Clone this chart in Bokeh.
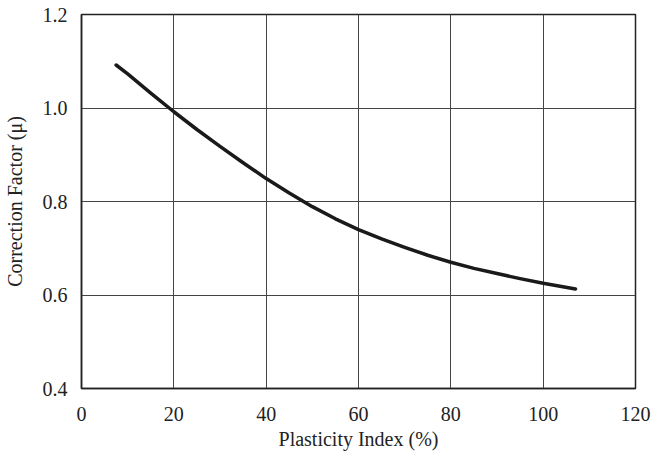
from bokeh.plotting import figure
from bokeh.models import Range1d, FixedTicker, NumeralTickFormatter
from bokeh.embed import file_html
from bokeh.resources import INLINE

# Data
plasticity_index = [7.5, 10, 15, 20, 25, 30, 35, 40, 45, 50, 55, 60, 65, 70, 75, 80, 85, 90, 95, 100, 107]
correction_factor = [1.092, 1.073, 1.032, 0.992, 0.954, 0.918, 0.883, 0.849, 0.818, 0.789, 0.763,
                     0.740, 0.720, 0.702, 0.685, 0.670, 0.657, 0.646, 0.635, 0.625, 0.613]

x_ticks = [0, 20, 40, 60, 80, 100, 120]
y_ticks = [0.4, 0.6, 0.8, 1.0, 1.2]

FONT = "Liberation Serif"

p = figure(
    output_backend="svg", toolbar_location=None,
    frame_width=554, frame_height=374,
    x_range=Range1d(0, 120), y_range=Range1d(0.4, 1.2),
    min_border_left=73, min_border_top=14, min_border_right=20, min_border_bottom=50,
    background_fill_color="white", border_fill_color="white",
)

p.line(plasticity_index, correction_factor, line_color="#1a1a1a", line_width=3.5,
       line_cap="round", line_join="round")

p.xaxis.ticker = FixedTicker(ticks=x_ticks)
p.yaxis.ticker = FixedTicker(ticks=y_ticks)
p.yaxis.formatter = NumeralTickFormatter(format="0.0")

for ax in (p.xaxis[0], p.yaxis[0]):
    ax.major_tick_line_color = None
    ax.minor_tick_line_color = None
    ax.axis_line_color = "#222222"
    ax.axis_line_width = 1.5
    ax.major_label_text_font = FONT
    ax.major_label_text_font_size = "20px"
    ax.major_label_text_color = "#222222"
    ax.axis_label_text_font = FONT
    ax.axis_label_text_font_size = "20px"
    ax.axis_label_text_font_style = "normal"
    ax.axis_label_text_color = "#222222"

p.xaxis.axis_label = "Plasticity Index (%)"
p.yaxis.axis_label = "Correction Factor (μ)"
p.xaxis.major_label_standoff = 12
p.yaxis.major_label_standoff = 8
p.xaxis.axis_label_standoff = 4
p.yaxis.axis_label_standoff = 14

p.xgrid.grid_line_color = "#444444"
p.ygrid.grid_line_color = "#444444"
p.xgrid.grid_line_width = 1
p.ygrid.grid_line_width = 1

p.outline_line_color = "#222222"
p.outline_line_width = 1.5
p.outline_line_alpha = 1

open("out.html", "w").write(file_html(p, INLINE))
